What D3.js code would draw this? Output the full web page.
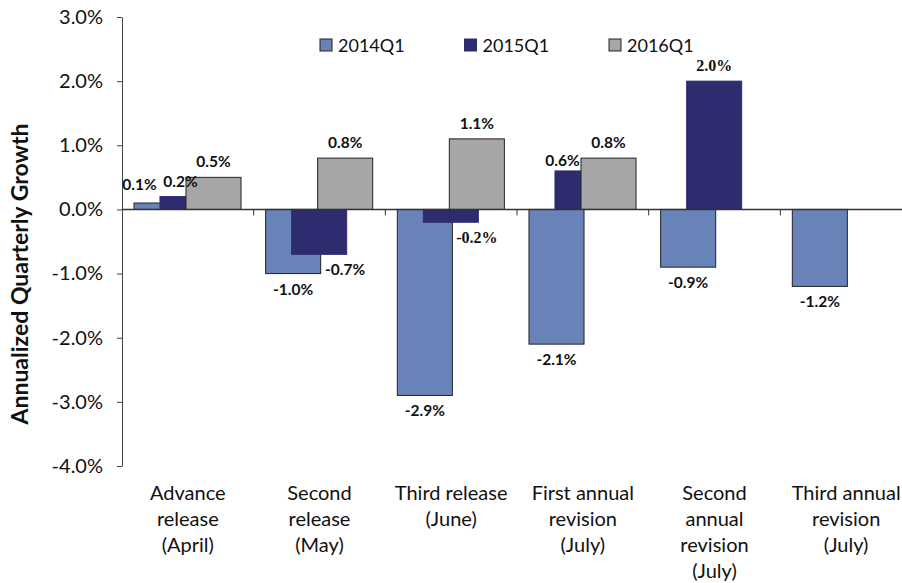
<!DOCTYPE html>
<html>
<head>
<meta charset="utf-8">
<script src="https://cdn.jsdelivr.net/npm/d3@7/dist/d3.min.js"></script>
<style>
body { margin: 0; background: #fff; }
text { font-family: Lato, "Open Sans", sans-serif; fill: #111; }
</style>
</head>
<body>
<div id="chart"></div>
<script>
// chart data
var categories = ["Advance\nrelease\n(April)", "Second\nrelease\n(May)", "Third release\n(June)",
	"First annual\nrevision\n(July)", "Second\nannual\nrevision\n(July)", "Third annual\nrevision\n(July)"];
var seriesNames = ["2014Q1", "2015Q1", "2016Q1"];
var growth2014 = [0.1, -1.0, -2.9, -2.1, -0.9, -1.2];
var growth2015 = [0.2, -0.7, -0.2, 0.6, 2.0, null];
var growth2016 = [0.5, 0.8, 1.1, 0.8, null, null];
var yTicks = [3, 2, 1, 0, -1, -2, -3, -4];

var colors = ["#6883b7", "#2e2c6f", "#a6a6a6"];
var strokes = ["#222", "#2e2c6f", "#222"];

// label nudges (series, category) -> [dx, dy], and the labels drawn in a serif face
var nudge = {"0-0": [-22, -3], "1-0": [-7, 0], "1-1": [26, 0], "1-2": [26, 0], "1-3": [-20, 5]};
var serifLabels = {"1-2": true, "1-4": true};

var width = 902, height = 583;

var svg = d3.select("#chart").append("svg")
	.attr("width", width)
	.attr("height", height);

var x = d3.scaleBand().domain(categories).range([122, 912]);
var y = d3.scaleLinear().domain([-4, 3]).range([466, 17]);
var bw = x.bandwidth();
var barW = bw * 0.418;
var off = d3.scaleLinear().domain([0, 2]).range([bw * 0.091, bw * 0.091 + 2 * bw * 0.1975]);

var fmt = function(v) { return v.toFixed(1) + "%"; };

// y axis
var yAxis = svg.append("g")
	.attr("transform", "translate(122,0)")
	.call(d3.axisLeft(y).tickValues(yTicks).tickFormat(fmt).tickSize(5).tickSizeOuter(0).tickPadding(14));
yAxis.select(".domain").attr("stroke", "#444");
yAxis.selectAll(".tick line").attr("stroke", "#444");
yAxis.selectAll(".tick text")
	.attr("font-family", "Lato, 'Open Sans', sans-serif")
	.attr("font-size", 20)
	.attr("fill", "#111");

// bars
var allSeries = [growth2014, growth2015, growth2016];
allSeries.forEach(function(vals, s) {
	var rows = vals.map(function(v, i) { return {v: v, c: categories[i], i: i}; })
		.filter(function(d) { return d.v !== null; });
	svg.append("g").selectAll("rect")
		.data(rows)
		.enter().append("rect")
		.attr("x", function(d) { return x(d.c) + off(s); })
		.attr("width", barW)
		.attr("y", function(d) { return y(Math.max(0, d.v)); })
		.attr("height", function(d) { return Math.abs(y(d.v) - y(0)); })
		.attr("fill", colors[s])
		.attr("stroke", strokes[s])
		.attr("stroke-width", 1);
});

// x axis line + ticks between categories
svg.append("line")
	.attr("x1", 122).attr("x2", width)
	.attr("y1", y(0)).attr("y2", y(0))
	.attr("stroke", "#333").attr("stroke-width", 1.5);
svg.selectAll(".xtick")
	.data(categories.slice(1))
	.enter().append("line")
	.attr("x1", function(d) { return x(d); })
	.attr("x2", function(d) { return x(d); })
	.attr("y1", y(0)).attr("y2", y(0) + 6)
	.attr("stroke", "#333");

// value labels
allSeries.forEach(function(vals, s) {
	vals.forEach(function(v, i) {
		if (v === null) return;
		var key = s + "-" + i;
		var n = nudge[key] || [0, 0];
		var cx = x(categories[i]) + off(s) + barW / 2 + n[0];
		var ty = v >= 0 ? y(v) - 10 : y(v) + 21;
		var t = svg.append("text")
			.attr("x", cx)
			.attr("y", ty + n[1])
			.attr("text-anchor", "middle")
			.attr("font-weight", "bold")
			.text(fmt(v));
		if (serifLabels[key]) {
			t.style("font-family", "'Liberation Serif', serif").attr("font-size", 16);
		} else {
			t.attr("font-size", 15.5);
		}
	});
});

// category labels
svg.selectAll(".cat")
	.data(categories)
	.enter().append("text")
	.attr("text-anchor", "middle")
	.attr("font-size", 20)
	.each(function(d) {
		var t = d3.select(this);
		d.split("\n").forEach(function(line, k) {
			t.append("tspan")
				.attr("x", x(d) + bw / 2)
				.attr("y", 500 + k * 26)
				.text(line);
		});
	});

// legend
var legend = svg.append("g");
seriesNames.forEach(function(name, s) {
	var lx = 320 + s * 144.5;
	legend.append("rect")
		.attr("x", lx).attr("y", 39)
		.attr("width", 12).attr("height", 12)
		.attr("fill", colors[s])
		.attr("stroke", strokes[s]);
	legend.append("text")
		.attr("x", lx + 18).attr("y", 52)
		.attr("font-size", 18)
		.text(name);
});

// y axis title
svg.append("text")
	.attr("transform", "translate(28,274) rotate(-90)")
	.attr("text-anchor", "middle")
	.attr("font-size", 23)
	.attr("font-weight", "bold")
	.text("Annualized Quarterly Growth");
</script>
</body>
</html>
